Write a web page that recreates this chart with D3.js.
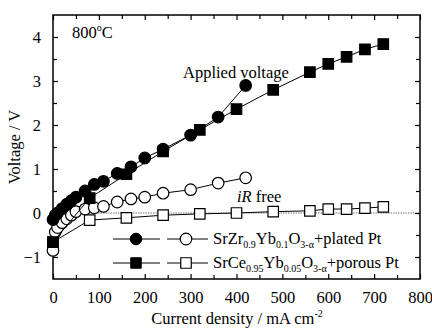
<!DOCTYPE html>
<html>
<head>
<meta charset="utf-8">
<script src="https://cdn.jsdelivr.net/npm/d3@7"></script>
<style>
  body { margin: 0; background: #fff; }
  text { font-family: "Liberation Serif", "Times New Roman", serif; fill: #000; }
</style>
</head>
<body>
<svg id="chart" width="432" height="329"></svg>
<script>
// SrZr0.9Yb0.1O3 + plated Pt
var zrCurrent = [0, 5, 10, 20, 30, 40, 50, 70, 90, 110, 140, 170, 200, 240, 300, 360, 420];
var zrApplied = [-0.15, -0.05, 0.0, 0.1, 0.2, 0.28, 0.36, 0.5, 0.65, 0.72, 0.9, 1.05, 1.25, 1.45, 1.77, 2.18, 2.9];
var zrIRfree  = [-0.85, -0.43, -0.33, -0.22, -0.13, -0.05, 0.03, 0.09, 0.12, 0.15, 0.25, 0.32, 0.36, 0.45, 0.53, 0.68, 0.8];

// SrCe0.95Yb0.05O3 + porous Pt
var ceCurrent = [0, 80, 160, 240, 320, 400, 480, 560, 600, 640, 680, 720];
var ceApplied = [-0.66, 0.34, 0.88, 1.4, 1.89, 2.36, 2.8, 3.2, 3.39, 3.55, 3.72, 3.84];
var ceIRfree  = [-0.66, -0.16, -0.11, -0.05, -0.02, 0.0, 0.03, 0.05, 0.09, 0.09, 0.11, 0.14];

var xTicks = [0, 100, 200, 300, 400, 500, 600, 700, 800];
var yTicks = [-1, 0, 1, 2, 3, 4];

var svg = d3.select('#chart');
var margin = {top: 15, right: 12, bottom: 50, left: 53};
var width = +svg.attr('width') - margin.left - margin.right;
var height = +svg.attr('height') - margin.top - margin.bottom;
var g = svg.append('g').attr('transform', 'translate(' + margin.left + ',' + margin.top + ')');

var x = d3.scaleLinear().domain([0, 800]).range([0, width]);
var y = d3.scaleLinear().domain([-1.5, 4.5]).range([height, 0]);

// zero line
g.append('line')
  .attr('x1', 0).attr('x2', width)
  .attr('y1', y(0)).attr('y2', y(0))
  .attr('stroke', '#777').attr('stroke-width', 1.2).attr('stroke-dasharray', '1.5,1');

// axes with inward ticks
function styleAxis(sel) {
  sel.select('.domain').remove();
  sel.selectAll('line').attr('stroke', '#000').attr('stroke-width', 1.2);
  sel.selectAll('text').style('font-size', '16.5px').style('font-family', '"Liberation Serif", serif');
}
var xMinor = d3.range(50, 800, 100);
var yMinor = d3.range(-0.5, 4.5, 1);

g.append('g').attr('transform', 'translate(0,' + height + ')')
  .call(d3.axisBottom(x).tickValues(xTicks).tickSizeInner(-5).tickSizeOuter(0).tickPadding(12).tickFormat(d3.format('d')))
  .call(styleAxis);
g.append('g').attr('transform', 'translate(0,' + height + ')')
  .call(d3.axisBottom(x).tickValues(xMinor).tickSize(-4).tickFormat(''))
  .call(styleAxis);
g.append('g')
  .call(d3.axisTop(x).tickValues(xTicks).tickSize(-5).tickFormat(''))
  .call(styleAxis);
g.append('g')
  .call(d3.axisTop(x).tickValues(xMinor).tickSize(-4).tickFormat(''))
  .call(styleAxis);

g.append('g')
  .call(d3.axisLeft(y).tickValues(yTicks).tickSize(-5).tickPadding(12).tickFormat(d3.format('d')))
  .call(styleAxis);
g.append('g')
  .call(d3.axisLeft(y).tickValues(yMinor).tickSize(-4).tickFormat(''))
  .call(styleAxis);
g.append('g').attr('transform', 'translate(' + width + ',0)')
  .call(d3.axisRight(y).tickValues(yTicks).tickSize(-5).tickFormat(''))
  .call(styleAxis);
g.append('g').attr('transform', 'translate(' + width + ',0)')
  .call(d3.axisRight(y).tickValues(yMinor).tickSize(-4).tickFormat(''))
  .call(styleAxis);

// frame
g.append('rect')
  .attr('width', width).attr('height', height)
  .attr('fill', 'none').attr('stroke', '#000').attr('stroke-width', 1.5);

// series
var line = d3.line().x(function(d) { return x(d[0]); }).y(function(d) { return y(d[1]); });
var circleSize = 105, squareSize = 110;

function drawSeries(xs, ys, shape, filled) {
  var pts = xs.map(function(v, i) { return [v, ys[i]]; });
  g.append('path').datum(pts)
    .attr('d', line).attr('fill', 'none').attr('stroke', '#000').attr('stroke-width', 1);
  var sym = d3.symbol().type(shape === 'circle' ? d3.symbolCircle : d3.symbolSquare)
    .size(shape === 'circle' ? circleSize : squareSize);
  g.selectAll(null).data(pts).enter().append('path')
    .attr('d', sym)
    .attr('transform', function(d) { return 'translate(' + x(d[0]) + ',' + y(d[1]) + ')'; })
    .attr('fill', filled ? '#000' : '#fff')
    .attr('stroke', '#000').attr('stroke-width', 1.2);
}

drawSeries(ceCurrent, ceIRfree, 'square', false);
drawSeries(zrCurrent, zrIRfree, 'circle', false);
drawSeries(ceCurrent, ceApplied, 'square', true);
drawSeries(zrCurrent, zrApplied, 'circle', true);

// annotations
g.append('text').attr('x', 19).attr('y', 23).style('font-size', '16.5px')
  .html('800<tspan dy="-7" font-size="10">o</tspan><tspan dy="7">C</tspan>');
g.append('text').attr('x', 130).attr('y', 63).style('font-size', '16.5px').text('Applied voltage');
g.append('text').attr('x', 184).attr('y', 187).style('font-size', '16.5px')
  .html('<tspan font-style="italic">iR</tspan> free');

// legend
var legend = [
  {y: 224, shape: 'circle', main: 'SrZr', s1: '0.9', b: 'Yb', s2: '0.1', tail: '+plated Pt'},
  {y: 248, shape: 'square', main: 'SrCe', s1: '0.95', b: 'Yb', s2: '0.05', tail: '+porous Pt'}
];
legend.forEach(function(L) {
  var sym = d3.symbol().type(L.shape === 'circle' ? d3.symbolCircle : d3.symbolSquare)
    .size(L.shape === 'circle' ? circleSize : squareSize);
  g.append('line').attr('x1', 60).attr('x2', 107).attr('y1', L.y).attr('y2', L.y).attr('stroke', '#000');
  g.append('line').attr('x1', 114).attr('x2', 155).attr('y1', L.y).attr('y2', L.y).attr('stroke', '#000');
  g.append('path').attr('d', sym).attr('transform', 'translate(83,' + L.y + ')').attr('fill', '#000').attr('stroke', '#000');
  g.append('path').attr('d', sym).attr('transform', 'translate(133,' + L.y + ')').attr('fill', '#fff').attr('stroke', '#000').attr('stroke-width', 1.2);
  g.append('text').attr('x', 160).attr('y', L.y + 5).style('font-size', '16.5px')
    .html(L.main + '<tspan dy="4" font-size="10">' + L.s1 + '</tspan><tspan dy="-4">' + L.b +
      '</tspan><tspan dy="4" font-size="10">' + L.s2 + '</tspan><tspan dy="-4">O</tspan>' +
      '<tspan dy="4" font-size="10">3-α</tspan><tspan dy="-4">' + L.tail + '</tspan>');
});

// axis titles
svg.append('text')
  .attr('transform', 'translate(20,' + (margin.top + y(1.5)) + ') rotate(-90)')
  .attr('text-anchor', 'middle').style('font-size', '16.5px').text('Voltage / V');
svg.append('text').attr('x', 237).attr('y', 324).attr('text-anchor', 'middle').style('font-size', '16.5px')
  .html('Current density / mA cm<tspan dy="-7" font-size="10">-2</tspan>');
</script>
</body>
</html>
